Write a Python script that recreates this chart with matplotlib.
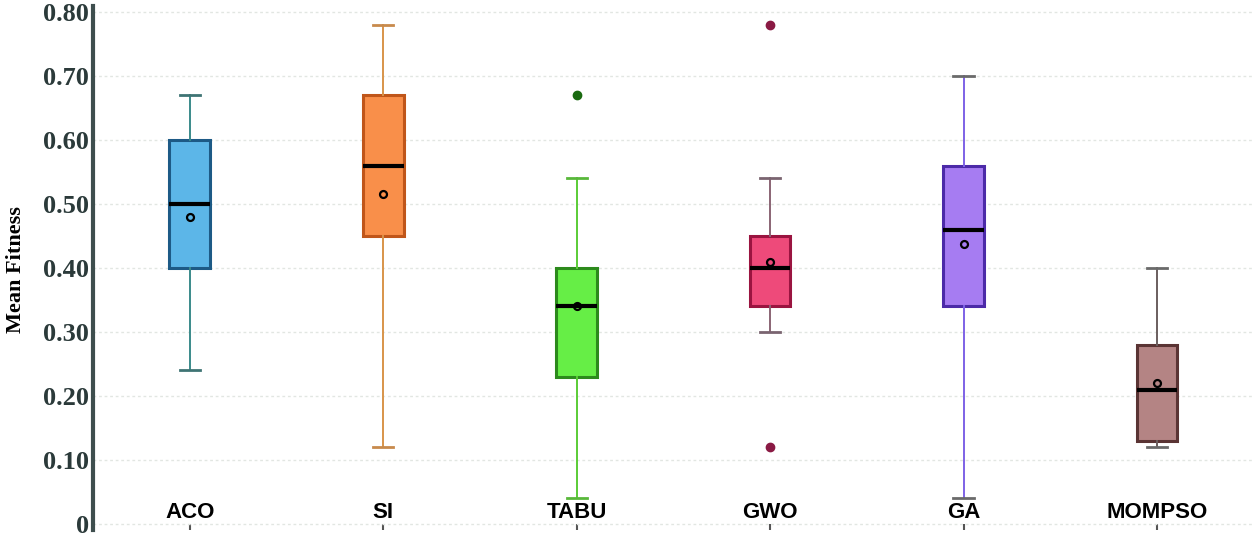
import matplotlib
matplotlib.use("Agg")
import matplotlib.pyplot as plt

# values
algos = ["ACO", "SI", "TABU", "GWO", "GA", "MOMPSO"]
whislo = [0.24, 0.12, 0.04, 0.30, 0.04, 0.12]
q1 = [0.40, 0.45, 0.23, 0.34, 0.34, 0.13]
med = [0.50, 0.56, 0.34, 0.40, 0.46, 0.21]
q3 = [0.60, 0.67, 0.40, 0.45, 0.56, 0.28]
whishi = [0.67, 0.78, 0.54, 0.54, 0.70, 0.40]
means = [0.48, 0.515, 0.34, 0.41, 0.437, 0.22]
fliers = [[], [], [0.67], [0.78, 0.12], [], []]

fills = ["#5cb6e8", "#f98f4a", "#66ee46", "#ee4a7a", "#a67cf2", "#b48484"]
edges = ["#1d5a86", "#c0561a", "#2c8a1c", "#9a1440", "#4c2aa8", "#5a3434"]
whisk = ["#3a8a8a", "#d8944a", "#5acc36", "#8a6474", "#7e62e6", "#6a5e5e"]
caps = ["#3f7474", "#c88a4c", "#58b83a", "#7a6470", "#6a6a6a", "#6a6a6a"]
flier_c = ["#000000", "#000000", "#1a6a10", "#8a1a44", "#000000", "#000000"]

stats = []
for i in range(len(algos)):
    stats.append(dict(label=algos[i], whislo=whislo[i], q1=q1[i], med=med[i],
                      q3=q3[i], whishi=whishi[i], mean=means[i], fliers=fliers[i]))

fig = plt.figure(figsize=(12.55, 5.4), dpi=100)
ax = fig.add_axes([0.0741, 0.0178, 0.9250, 0.9718])

for i, s in enumerate(stats):
    ax.bxp([s], positions=[i], widths=0.21, patch_artist=True, showmeans=True,
           boxprops=dict(facecolor=fills[i], edgecolor=edges[i], linewidth=2.2),
           whiskerprops=dict(color=whisk[i], linewidth=1.4),
           capprops=dict(color=caps[i], linewidth=2.0),
           medianprops=dict(color="black", linewidth=3),
           meanprops=dict(marker="o", markerfacecolor="none", markeredgecolor="black",
                          markersize=5, markeredgewidth=1.6),
           flierprops=dict(marker="o", markerfacecolor=flier_c[i], markeredgecolor=flier_c[i],
                           markersize=6))

ax.set_xlim(-0.5, 5.5)
ax.set_ylim(-0.01, 0.81)
yt = [0, 0.1, 0.2, 0.3, 0.4, 0.5, 0.6, 0.7, 0.8]
ax.set_yticks(yt)
ax.set_yticklabels(["0"] + ["%.2f" % v for v in yt[1:]],
                   fontfamily="Liberation Serif", fontweight="bold", fontsize=19, color="#2b3a3a")
ax.tick_params(axis="y", length=0, pad=3)
ax.set_xticks(range(len(algos)))
ax.set_xticklabels([])
ax.tick_params(axis="x", direction="in", length=4, width=1.5, color="#555555")

for i, name in enumerate(algos):
    ax.text(i, 0.009, name, ha="center", va="baseline", fontfamily="Liberation Sans",
            fontweight="bold", fontsize=16, color="black")

ax.grid(axis="y", linestyle=(0, (2, 2)), color="#e2e6e2", linewidth=1)
ax.set_axisbelow(True)
for side in ["top", "right", "bottom"]:
    ax.spines[side].set_visible(False)
ax.spines["left"].set_color("#3e4e4e")
ax.spines["left"].set_linewidth(3)

fig.text(0.013, 0.5, "Mean Fitness", rotation=90, ha="center", va="center",
         fontfamily="Liberation Serif", fontweight="bold", fontsize=16)

fig.savefig("out.png", dpi=100)
